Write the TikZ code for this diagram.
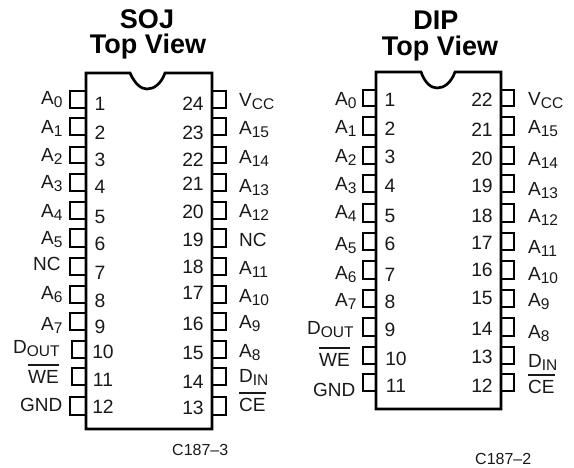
\documentclass[tikz,border=0pt]{standalone}
\usepackage{fontspec}
\setmainfont{Liberation Sans}
\newcommand\dn[1]{\raisebox{-3.5pt}{\fontsize{15.5}{15.5}\selectfont #1}}
\newcommand\ovl[1]{\leavevmode\setbox0\hbox{#1}\rlap{\raisebox{17.5pt}{\rule{\wd0}{1.3pt}}}\box0}
\tikzset{
  x=1pt,y=-1pt,
  bodyline/.style={line width=2.7pt,black,miter limit=10},
  pinline/.style={line width=1.7pt,black},
  sig/.style={inner sep=0pt,anchor=base west,font=\fontsize{19}{19}\selectfont,text=black!90},
  num/.style={inner sep=0pt,anchor=base,font=\fontsize{19.3}{19.3}\selectfont,text=black!90},
  headline/.style={inner sep=0pt,anchor=base,font=\fontsize{27}{27}\selectfont\bfseries},
  code/.style={inner sep=0pt,anchor=base west,font=\fontsize{16}{16}\selectfont,text=black!90}
}
\begin{document}
\begin{tikzpicture}
\useasboundingbox (0,0) rectangle (574,467);
% titles
\node[headline] (t1a) at (147,28) {SOJ};
\node[headline] (t1b) at (148,53) {Top View};
\node[headline] (t2a) at (436,29) {DIP};
\node[headline] (t2b) at (440,55) {Top View};
% bodies
\draw[bodyline] (86,73) -- (130,73) .. controls (135,84) and (141,89) .. (147,89) .. controls (154,89) and (161,84) .. (165,73) -- (212,73) -- (212,429) -- (86,429) -- cycle;
\draw[bodyline] (376,72) -- (421,72) .. controls (425,83) and (431,88) .. (437,88) .. controls (444,88) and (451,83) .. (455,72) -- (501,72) -- (501,409) -- (376,409) -- cycle;
% SOJ pins
\foreach \t/\b/\l in {91/108/70,118/135/70,147/163/70,174/191/70,202/219/70,229/247/70,258/275/70,286/303/70,313/330/70,341/358/72,368/385/72,397/415/70}{
  \draw[pinline] (86,\t) -- (\l,\t) -- (\l,\b) -- (86,\b);
}
\foreach \t/\b in {91/108,118/135,147/163,174/191,202/219,229/247,258/275,286/303,313/330,341/358,368/385,397/415}{
  \draw[pinline] (212,\t) -- (226,\t) -- (226,\b) -- (212,\b);
}
% DIP pins
\foreach \t/\b in {90/106,117/135,147/164,175/192,204/222,233/250,261/279,290/307,318/336,347/364,374/391}{
  \draw[pinline] (376,\t) -- (363,\t) -- (363,\b) -- (376,\b);
  \draw[pinline] (501,\t) -- (514,\t) -- (514,\b) -- (501,\b);
}
% SOJ signals
\foreach \x/\y/\s [count=\i] in {41/104/{A\dn{0}},41/133/{A\dn{1}},41/161/{A\dn{2}},41/188/{A\dn{3}},41/217/{A\dn{4}},41/244/{A\dn{5}},33/270/{NC},41/299/{A\dn{6}},41/330/{A\dn{7}},13/353/{D\dn{OUT}},28/383/{\ovl{WE}},20/411/{GND},
 239/106/{V\dn{CC}},239/134/{A\dn{15}},239/163/{A\dn{14}},239/192/{A\dn{13}},239/217/{A\dn{12}},239/246/{NC},239/274/{A\dn{11}},239/302/{A\dn{10}},239/328/{A\dn{9}},239/357/{A\dn{8}},239/382/{D\dn{IN}},239/411/{\ovl{CE}}}{
  \node[sig] (sa\i) at (\x,\y) {\s};
}
% SOJ numbers
\foreach \x/\y/\s [count=\i] in {100/110/1,100/139/2,100/166/3,100/193/4,100/223/5,100/250/6,100/279/7,100/307/8,100/333/9,103/358/10,103/386/11,103/413/12,
 193/110/24,193/139/23,193/166/22,193/190/21,193/218/20,193/246/19,193/273/18,193/299/17,193/330/16,193/359/15,193/388/14,193/414/13}{
  \node[num] (na\i) at (\x,\y) {\s};
}
% DIP signals
\foreach \x/\y/\s [count=\i] in {335/105/{A\dn{0}},335/133/{A\dn{1}},335/162/{A\dn{2}},335/190/{A\dn{3}},335/218/{A\dn{4}},335/250/{A\dn{5}},335/279/{A\dn{6}},335/306/{A\dn{7}},307/334/{D\dn{OUT}},319/366/{\ovl{WE}},313/396/{GND},
 528/105/{V\dn{CC}},528/133/{A\dn{15}},528/165/{A\dn{14}},528/195/{A\dn{13}},528/222/{A\dn{12}},528/253/{A\dn{11}},528/280/{A\dn{10}},528/306/{A\dn{9}},528/338/{A\dn{8}},528/367/{D\dn{IN}},528/393/{\ovl{CE}}}{
  \node[sig] (sb\i) at (\x,\y) {\s};
}
% DIP numbers
\foreach \x/\y/\s [count=\i] in {390/106/1,390/135/2,390/163/3,390/192/4,390/222/5,390/250/6,390/281/7,390/308/8,390/336/9,396/365/10,396/392/11,
 482/106/22,482/136/21,482/165/20,482/192/19,482/222/18,482/249/17,482/276/16,482/304/15,482/335/14,482/363/13,482/392/12}{
  \node[num] (nb\i) at (\x,\y) {\s};
}
\node[code] (c1) at (172,455) {C187–3};
\node[code] (c2) at (475,464) {C187–2};
\end{tikzpicture}
\end{document}
